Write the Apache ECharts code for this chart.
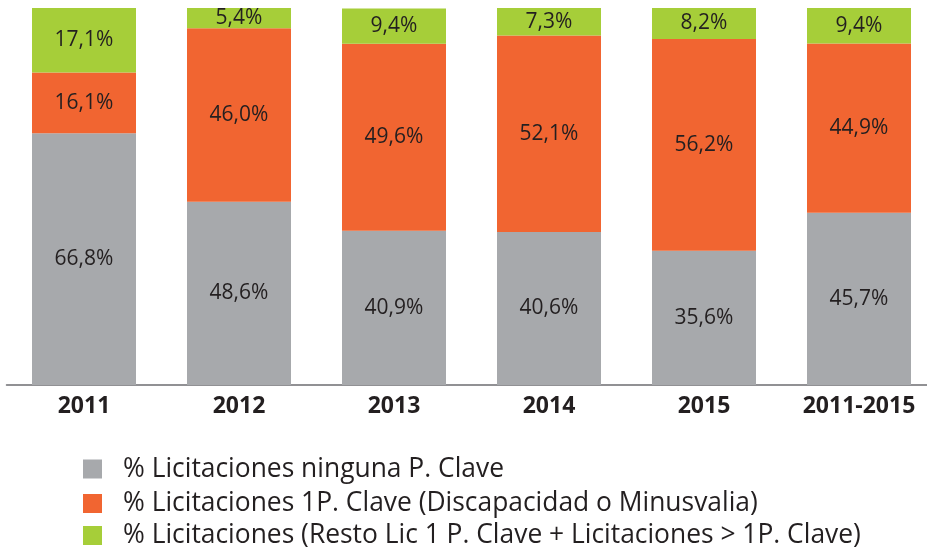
<!DOCTYPE html>
<html>
<head>
<meta charset="utf-8">
<script src="https://cdn.jsdelivr.net/npm/echarts@6/dist/echarts.min.js"></script>
<style>
  html, body { margin: 0; padding: 0; background: #fff; }
  #chart { width: 927px; height: 547px; }
</style>
</head>
<body>
<div id="chart"></div>
<script>
// categorias y valores (%)
var years = ['2011', '2012', '2013', '2014', '2015', '2011-2015'];
var ninguna = [66.8, 48.6, 40.9, 40.6, 35.6, 45.7];
var unaClave = [16.1, 46.0, 49.6, 52.1, 56.2, 44.9];
var resto = [17.1, 5.4, 9.4, 7.3, 8.2, 9.4];
var seriesNames = [
  '% Licitaciones ninguna P. Clave',
  '% Licitaciones 1P. Clave (Discapacidad o Minusvalia)',
  '% Licitaciones (Resto Lic 1 P. Clave + Licitaciones > 1P. Clave)'
];

var font = '"Open Sans", "Noto Sans", sans-serif';

function pct(p) {
  return p.value.toFixed(1).replace('.', ',') + '%';
}

function barSerie(name, data, color) {
  return {
    name: name,
    type: 'bar',
    stack: 'total',
    data: data,
    barWidth: 104,
    itemStyle: { color: color },
    label: {
      show: true,
      position: 'inside',
      formatter: pct,
      color: '#231f20',
      fontFamily: font,
      fontSize: 21
    }
  };
}

// una leyenda por fila, para fijar la posicion de cada una
function legendRow(name, top) {
  return {
    orient: 'vertical',
    left: 83,
    top: top,
    padding: 0,
    itemWidth: 19,
    itemHeight: 19,
    icon: 'rect',
    textStyle: {
      color: '#231f20',
      fontFamily: font,
      fontSize: 26.4,
      padding: [0, 0, 0, 16]
    },
    data: [name]
  };
}

var myChart = echarts.init(document.getElementById('chart'));
var option = {
  animation: false,
  grid: { left: 6.5, top: 8, width: 930, height: 377, outerBoundsMode: 'none' },
  xAxis: {
    type: 'category',
    data: years,
    axisLine: { lineStyle: { color: '#6d6e71', width: 1.5 } },
    axisTick: { show: false },
    axisLabel: {
      margin: 10,
      color: '#231f20',
      fontFamily: font,
      fontWeight: 'bold',
      fontSize: 23
    }
  },
  yAxis: {
    type: 'value',
    min: 0,
    max: 100,
    show: false
  },
  legend: [
    legendRow(seriesNames[0], 456),
    legendRow(seriesNames[1], 490.5),
    legendRow(seriesNames[2], 522.5)
  ],
  series: [
    barSerie(seriesNames[0], ninguna, '#a7a9ac'),
    barSerie(seriesNames[1], unaClave, '#f16531'),
    barSerie(seriesNames[2], resto, '#a6ce39')
  ]
};
myChart.setOption(option);
</script>
</body>
</html>
